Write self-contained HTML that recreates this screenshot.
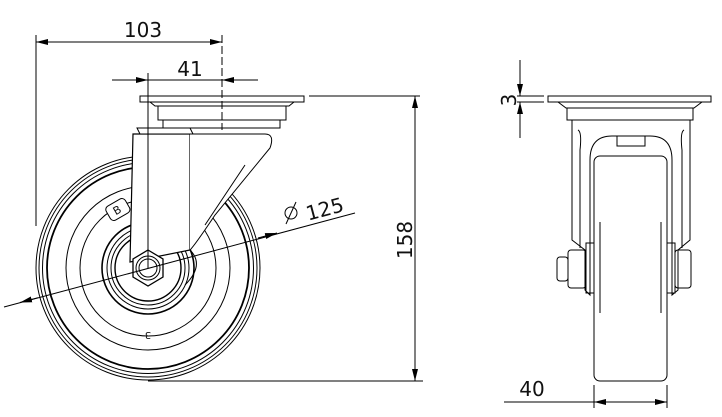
<!DOCTYPE html>
<html><head><meta charset="utf-8"><style>
html,body{margin:0;padding:0;background:#fff;}
svg{display:block;}
text{font-family:"DejaVu Sans","Liberation Sans",sans-serif;fill:#111;}
</style></head><body>
<svg width="722" height="417" viewBox="0 0 722 417" xmlns="http://www.w3.org/2000/svg">
<defs>
<marker id="a" viewBox="0 0 12 6" refX="12" refY="3" markerWidth="12" markerHeight="6" orient="auto-start-reverse" markerUnits="userSpaceOnUse"><path d="M0,0L12,3L0,6z" fill="#000"/></marker>
</defs>
<g fill="none" stroke="#000" stroke-width="1">
<!-- wheel circles -->
<circle cx="148" cy="268" r="112"/>
<circle cx="148" cy="268" r="109"/>
<circle cx="148" cy="268" r="105.5"/>
<circle cx="148" cy="268" r="101" stroke-width="1.8"/>
<circle cx="148" cy="268" r="82"/>
<circle cx="148" cy="268" r="68"/>
<circle cx="148" cy="268" r="46" stroke-width="1.6"/>
<circle cx="148" cy="268" r="41"/>
<circle cx="148" cy="268" r="37"/>
<circle cx="148" cy="268" r="33" stroke-width="1.4"/>
<!-- fork -->
<path d="M133,134 L130,262 L190,250 L190,134 Z" fill="#fff" stroke-width="1.2"/>
<path d="M137,128 L190,128 L193,134 L140,134 Z" fill="#fff"/>
<path d="M190,250 Q205,265 185,285" />
<path d="M190,134 L265,134 Q275,134 270,148 L215,215 Q195,245 190,250" fill="#fff"/>
<path d="M245,165 L205,225"/>
<!-- plate stack -->
<rect x="140" y="96" width="164" height="6" fill="#fff"/>
<path d="M150,102 L155,106 L289,106 L294,102"/>
<rect x="158" y="106" width="128" height="14" fill="#fff"/>
<rect x="163" y="120" width="117" height="8" fill="#fff"/>
<!-- hex nut -->
<polygon points="148,250 163,259 163,277 148,286 133,277 133,259" fill="#fff" stroke-width="1.3"/>
<circle cx="148" cy="268" r="12"/>
<circle cx="148" cy="268" r="9"/>
<!-- logo -->
<g transform="translate(117,210) rotate(-30)"><rect x="-10" y="-8" width="22" height="16" rx="4" fill="#fff"/></g>
<!-- center lines -->
<line x1="148" y1="73" x2="148" y2="268"/>
<line x1="222" y1="35" x2="222" y2="130" stroke-dasharray="8,3"/>
<!-- 103 -->
<line x1="36" y1="35" x2="36" y2="226"/>
<line x1="36" y1="42" x2="222" y2="42" marker-start="url(#a)" marker-end="url(#a)"/>
<!-- 41 -->
<line x1="112" y1="80" x2="148" y2="80" marker-end="url(#a)"/>
<line x1="148" y1="80" x2="222" y2="80"/>
<line x1="258" y1="80" x2="222" y2="80" marker-end="url(#a)"/>
<!-- 158 -->
<line x1="309" y1="96" x2="420" y2="96"/>
<line x1="148" y1="381" x2="423" y2="381"/>
<line x1="415" y1="96" x2="415" y2="381" marker-start="url(#a)" marker-end="url(#a)"/>
<!-- diameter -->
<line x1="4" y1="307" x2="355" y2="213"/>
<line x1="20" y1="302.5" x2="38" y2="297.7" marker-start="url(#a)"/>
<line x1="258" y1="238" x2="277" y2="233" marker-end="url(#a)"/>
<circle cx="291" cy="213" r="6"/>
<line x1="286" y1="224" x2="296" y2="202"/>

<!-- right view -->
<rect x="548" y="96" width="163" height="6" fill="#fff"/>
<path d="M558,102 L566,108 L694,108 L702,102"/>
<rect x="567" y="108" width="126" height="12" fill="#fff"/>
<path d="M572,120 L572,240 L585,250 L585,290 L590,295 L590,160 Q590,136 612,136 L650,136 Q672,136 672,160 L672,295 L678,290 L678,250 L690,240 L690,120"/>
<path d="M578,130 Q582,132 580,150 L580,248 M684,130 Q680,132 682,150 L682,248"/>
<rect x="617" y="136" width="28" height="10"/>
<rect x="594" y="156" width="73" height="225" rx="6" fill="#fff"/>
<line x1="594" y1="222" x2="594" y2="313"/><line x1="667" y1="222" x2="667" y2="313"/>
<line x1="600" y1="222" x2="600" y2="313"/><line x1="661" y1="222" x2="661" y2="313"/>
<rect x="586" y="243" width="8" height="50"/>
<rect x="667" y="243" width="8" height="50"/>
<rect x="568" y="250" width="18" height="38" rx="3"/>
<rect x="557" y="257" width="11" height="24" rx="3"/>
<rect x="675" y="250" width="16" height="38" rx="3"/>
<!-- 3 dim -->
<line x1="517" y1="96" x2="544" y2="96"/>
<line x1="517" y1="102" x2="544" y2="102"/>
<line x1="520" y1="60" x2="520" y2="96" marker-end="url(#a)"/>
<line x1="520" y1="138" x2="520" y2="102" marker-end="url(#a)"/>
<!-- 40 dim -->
<line x1="594" y1="385" x2="594" y2="408"/>
<line x1="667" y1="385" x2="667" y2="408"/>
<line x1="504" y1="402" x2="594" y2="402"/>
<line x1="594" y1="402" x2="667" y2="402" marker-start="url(#a)" marker-end="url(#a)"/>
</g>
<text x="143" y="37" font-size="20" text-anchor="middle">103</text>
<text x="190" y="76" font-size="20" text-anchor="middle">41</text>
<text x="325" y="216" font-size="20" text-anchor="middle" transform="rotate(-15 325 210)">125</text>
<text x="412" y="240" font-size="20" text-anchor="middle" transform="rotate(-90 412 240)">158</text>
<text x="516" y="100" font-size="20" text-anchor="middle" transform="rotate(-90 516 100)" dy="0">3</text>
<text x="532" y="396" font-size="20" text-anchor="middle">40</text>
<text x="148" y="340" font-size="10" text-anchor="middle" transform="rotate(180 148 336)">3</text>
<text x="117" y="214" font-size="11" text-anchor="middle" transform="rotate(-30 117 210)">B</text>
</svg>
</body></html>
